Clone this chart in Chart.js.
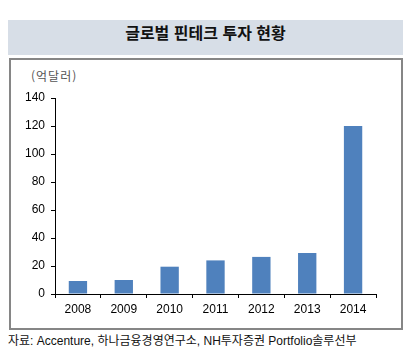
<!DOCTYPE html>
<html lang="ko">
<head>
<meta charset="utf-8">
<script src="https://cdn.jsdelivr.net/npm/chart.js@4"></script>
<style>
  html, body { margin: 0; padding: 0; background: #fff; }
  #wrap { position: relative; width: 408px; height: 354px; overflow: hidden; }
  .title {
    position: absolute; left: 8px; top: 20px; width: 395px; height: 35px;
    background: #d7dee7; color: #111; text-align: center; line-height: 35px;
    font: bold 16px "Noto Sans CJK KR", sans-serif;
  }
  .box {
    position: absolute; left: 9px; top: 58px; width: 390px; height: 268px;
    border: 2px solid #868686; box-sizing: content-box;
  }
  .unit {
    position: absolute; left: 31px; top: 67px; color: #555; letter-spacing: 1px;
    font: 12px "Noto Sans CJK KR", sans-serif;
  }
  .source {
    position: absolute; left: 8px; top: 331px; color: #111; white-space: nowrap;
    font: 12px "Liberation Sans", "Noto Sans CJK KR", sans-serif;
  }
  canvas { position: absolute; left: 0; top: 0; }
</style>
</head>
<body>
<div id="wrap">
  <div class="title">글로벌 핀테크 투자 현황</div>
  <div class="box"></div>
  <div class="unit">(억달러)</div>
  <div class="source">자료: Accenture, 하나금융경영연구소, NH투자증권 Portfolio솔루선부</div>
  <canvas id="chart" width="408" height="354"></canvas>
</div>
<script>
// Global fintech investment, 100M USD
const years = ["2008", "2009", "2010", "2011", "2012", "2013", "2014"];
const invest = [9.3, 10, 19.5, 24, 26.5, 29.3, 120];
const yTicks = [0, 20, 40, 60, 80, 100, 120, 140];

const font = { family: "'Liberation Sans', Arial, sans-serif", size: 12 };

new Chart(document.getElementById("chart"), {
  type: "bar",
  data: {
    labels: years,
    datasets: [{ data: invest, backgroundColor: "#4f81bd", barPercentage: 0.4, categoryPercentage: 1 }],
  },
  options: {
    responsive: false,
    animation: false,
    layout: { padding: { left: 0, right: 32, top: 98, bottom: 0 } },
    plugins: { legend: { display: false }, tooltip: { enabled: false } },
    scales: {
      x: {
        afterFit: (s) => { s.height = 60; },
        grid: { offset: true, drawOnChartArea: false, tickLength: 4, color: "#000", tickColor: "#000" },
        border: { color: "#000" },
        ticks: { color: "#000", font, padding: 4 },
      },
      y: {
        min: 0, max: 140,
        afterFit: (s) => { s.width = 55; },
        afterBuildTicks: (s) => { s.ticks = yTicks.map((v) => ({ value: v })); },
        grid: { drawOnChartArea: false, tickLength: 4, color: "#000", tickColor: "#000" },
        border: { color: "#000" },
        ticks: { color: "#000", font, padding: 6 },
      },
    },
  },
});
</script>
</body>
</html>
